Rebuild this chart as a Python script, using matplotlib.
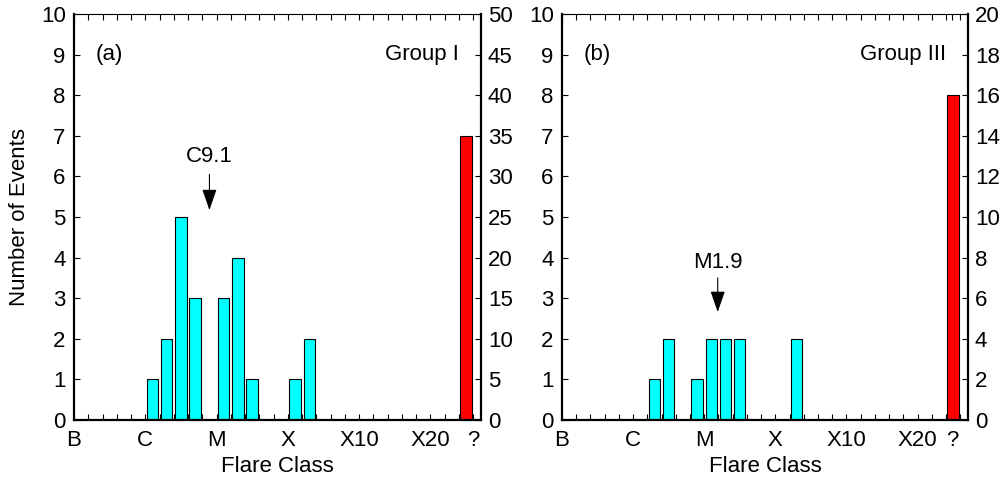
import matplotlib
matplotlib.use("Agg")
import matplotlib.pyplot as plt
import numpy as np

plt.rcParams['font.family'] = ['Liberation Sans', 'DejaVu Sans']

# class bins (half steps of 0.2 decade per unit, B=0, C=5, M=10, X=15, X10=20, X20=25)
class_ticks = [0, 5, 10, 15, 20, 25]
class_labels = ["B", "C", "M", "X", "X10", "X20"]

# Group I
pos_a = [5.5, 6.5, 7.5, 8.5, 10.5, 11.5, 12.5, 15.5, 16.5]
cnt_a = [1, 2, 5, 3, 3, 4, 1, 1, 2]
unknown_a = 7
# Group III
pos_b = [6.5, 7.5, 9.5, 10.5, 11.5, 12.5, 16.5]
cnt_b = [1, 2, 1, 2, 2, 2, 2]
unknown_b = 8

FS = 16
fig = plt.figure(figsize=(10.04, 4.8), dpi=100)
W, H = 1004, 480


def panel(left, right_edge, pos, cnt, unknown, qpos, right_max, right_step,
          tag, group, ann_text, ann_x, ann_tip, ann_tail, ann_text_y):
    ax = fig.add_axes([left / W, 60 / H, (right_edge - left) / W, 406 / H])
    ax.bar(pos, cnt, width=0.8, color="#00ffff", edgecolor="black", linewidth=0.8, zorder=2)
    ax.bar([27.5], [unknown], width=0.8, color="#ff0000", edgecolor="black", linewidth=0.8, zorder=2)
    ax.set_xlim(0, 28.55)
    ax.set_ylim(0, 10)
    ax.set_yticks(range(11))
    ax.set_xticks(class_ticks + [qpos])
    ax.set_xticklabels(class_labels + ["?"])
    ax.set_xticks(np.arange(1, 29), minor=True)
    ax.tick_params(axis="x", which="both", direction="in", top=True, length=4,
                   width=0.8, labelsize=FS, pad=7)
    ax.tick_params(axis="y", direction="in", length=4, width=0.8, labelsize=FS, pad=6)
    ax.set_xlabel("Flare Class", fontsize=FS, labelpad=4)
    for s in ["left", "bottom", "right"]:
        ax.spines[s].set_linewidth(1.6)
    ax.spines["top"].set_linewidth(0.8)

    ax2 = ax.twinx()
    ax2.set_ylim(0, right_max)
    ax2.set_yticks(np.arange(0, right_max + 1, right_step))
    ax2.tick_params(axis="y", direction="in", length=4, width=0.8, labelsize=FS, pad=5)
    for s in ax2.spines.values():
        s.set_visible(False)

    ax.text(1.5, 9.0, tag, fontsize=FS, ha="left", va="center")
    ax.text(27.0, 9.0, group, fontsize=FS, ha="right", va="center")
    ax.text(ann_x, ann_text_y, ann_text, fontsize=FS, ha="center", va="center")
    ax.annotate("", xy=(ann_x, ann_tip), xytext=(ann_x, ann_tail),
                arrowprops=dict(arrowstyle="-|>,head_length=1.3,head_width=0.45",
                                color="black", lw=0.8, shrinkA=0, shrinkB=0))
    return ax


ax_a = panel(74, 481, pos_a, cnt_a, unknown_a, 28.0, 50, 5, "(a)", "Group I",
             "C9.1", 9.5, 5.17, 6.05, 6.5)
ax_a.set_ylabel("Number of Events", fontsize=FS, labelpad=8)

panel(562, 968, pos_b, cnt_b, unknown_b, 27.45, 20, 2, "(b)", "Group III",
      "M1.9", 10.95, 2.66, 3.5, 3.88)

fig.savefig("out.png", dpi=100)
